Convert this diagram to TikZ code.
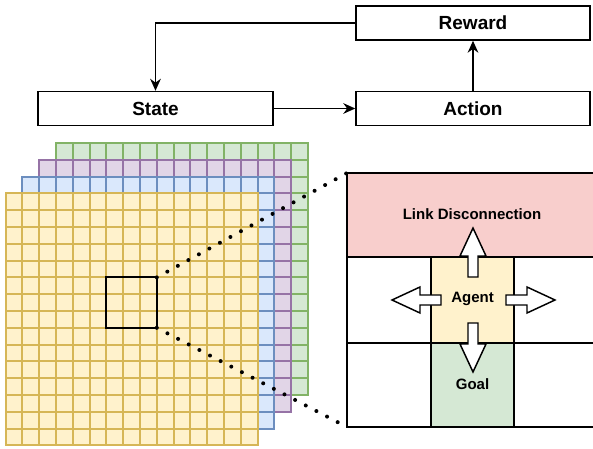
\documentclass[tikz,border=0pt]{standalone}
\usepackage{fontspec}
\setmainfont{Liberation Sans}
\usetikzlibrary{arrows.meta}
\definecolor{yellowFill}{HTML}{FFF2CC}
\definecolor{yellowLine}{HTML}{D6B656}
\definecolor{blueFill}{HTML}{DAE8FC}
\definecolor{blueLine}{HTML}{6C8EBF}
\definecolor{purpleFill}{HTML}{E1D5E7}
\definecolor{purpleLine}{HTML}{9673A6}
\definecolor{greenFill}{HTML}{D5E8D4}
\definecolor{greenLine}{HTML}{82B366}
\definecolor{pinkFill}{HTML}{F8CECC}
\newcommand{\gridLayer}[4]{%
  \fill[#3] (#1,#2) rectangle ++(252,252);
  \foreach \k in {0,...,15} {
    \draw[#4, line width=1.5pt, line cap=rect] ({#1+\k*16.8},#2) -- ++(0,252);
    \draw[#4, line width=1.5pt, line cap=rect] (#1,{#2+\k*16.8}) -- ++(252,0);
  }}
\newcommand{\blockArrow}[2]{%
  \draw[line width=1.1pt, fill=white, line join=miter, shift={(#1)}, rotate=#2]
    (0,-5) -- (21,-5) -- (21,-13) -- (49,0) -- (21,13) -- (21,5) -- (0,5) -- cycle;}

\begin{document}
\begin{tikzpicture}[x=0.75pt,y=-0.75pt,
  box/.style={draw, line width=1.1pt, minimum height=25.5pt, inner sep=0pt,
    font=\bfseries\fontsize{14.25}{16}\selectfont},
  link/.style={line width=1.1pt, -{Stealth[length=9pt,width=8pt]}},
  cellText/.style={inner sep=0pt, font=\bfseries\fontsize{11.25}{13}\selectfont},
  panel/.style={line width=1.1pt},
  dots/.style={line width=3pt, line cap=round, dash pattern=on 0pt off 9pt}]
\useasboundingbox (0,0) rectangle (593,449);

\node[box, minimum width=176.25pt] (state) at (155.5,108.5) {State};
\node[box, minimum width=175.5pt] (action) at (473,108.5) {Action};
\node[box, minimum width=175.5pt] (reward) at (473,23) {Reward};
\draw[link] (reward.west) -| (state.north);
\draw[link] (state) -- (action);
\draw[link] (action) -- (reward);

\gridLayer{56}{143}{greenFill}{greenLine}
\gridLayer{39.2}{159.8}{purpleFill}{purpleLine}
\gridLayer{22.4}{176.6}{blueFill}{blueLine}
\gridLayer{5.6}{193.4}{yellowFill}{yellowLine}
\draw[line width=1.6pt] (106.4,277.4) rectangle (156.8,327.8);
\coordinate (windowTop) at (156.8,277.4);
\coordinate (windowBottom) at (156.8,327.8);

\fill[pinkFill] (347,173) rectangle (597,257);
\fill[yellowFill] (431,257) rectangle (514,343);
\fill[greenFill] (431,343) rectangle (514,427);
\draw[panel] (347,173) rectangle (597,427);
\draw[panel] (347,257) -- (597,257);
\draw[panel] (347,343) -- (597,343);
\draw[panel] (431,257) -- (431,427);
\draw[panel] (514,257) -- (514,427);
\coordinate (panelTop) at (347,173);
\coordinate (panelBottom) at (347,427);

\draw[dots] (windowTop) -- (panelTop);
\draw[dots] (windowBottom) -- (panelBottom);

\node[cellText] (linkLabel) at (472,214) {Link Disconnection};
\node[cellText] (agentLabel) at (472.5,299) {Agent};
\node[cellText] (goalLabel) at (472.5,384) {Goal};

\blockArrow{473,277}{90}
\blockArrow{441,300}{180}
\blockArrow{506,300}{0}
\blockArrow{473,323}{-90}
\end{tikzpicture}
\end{document}
